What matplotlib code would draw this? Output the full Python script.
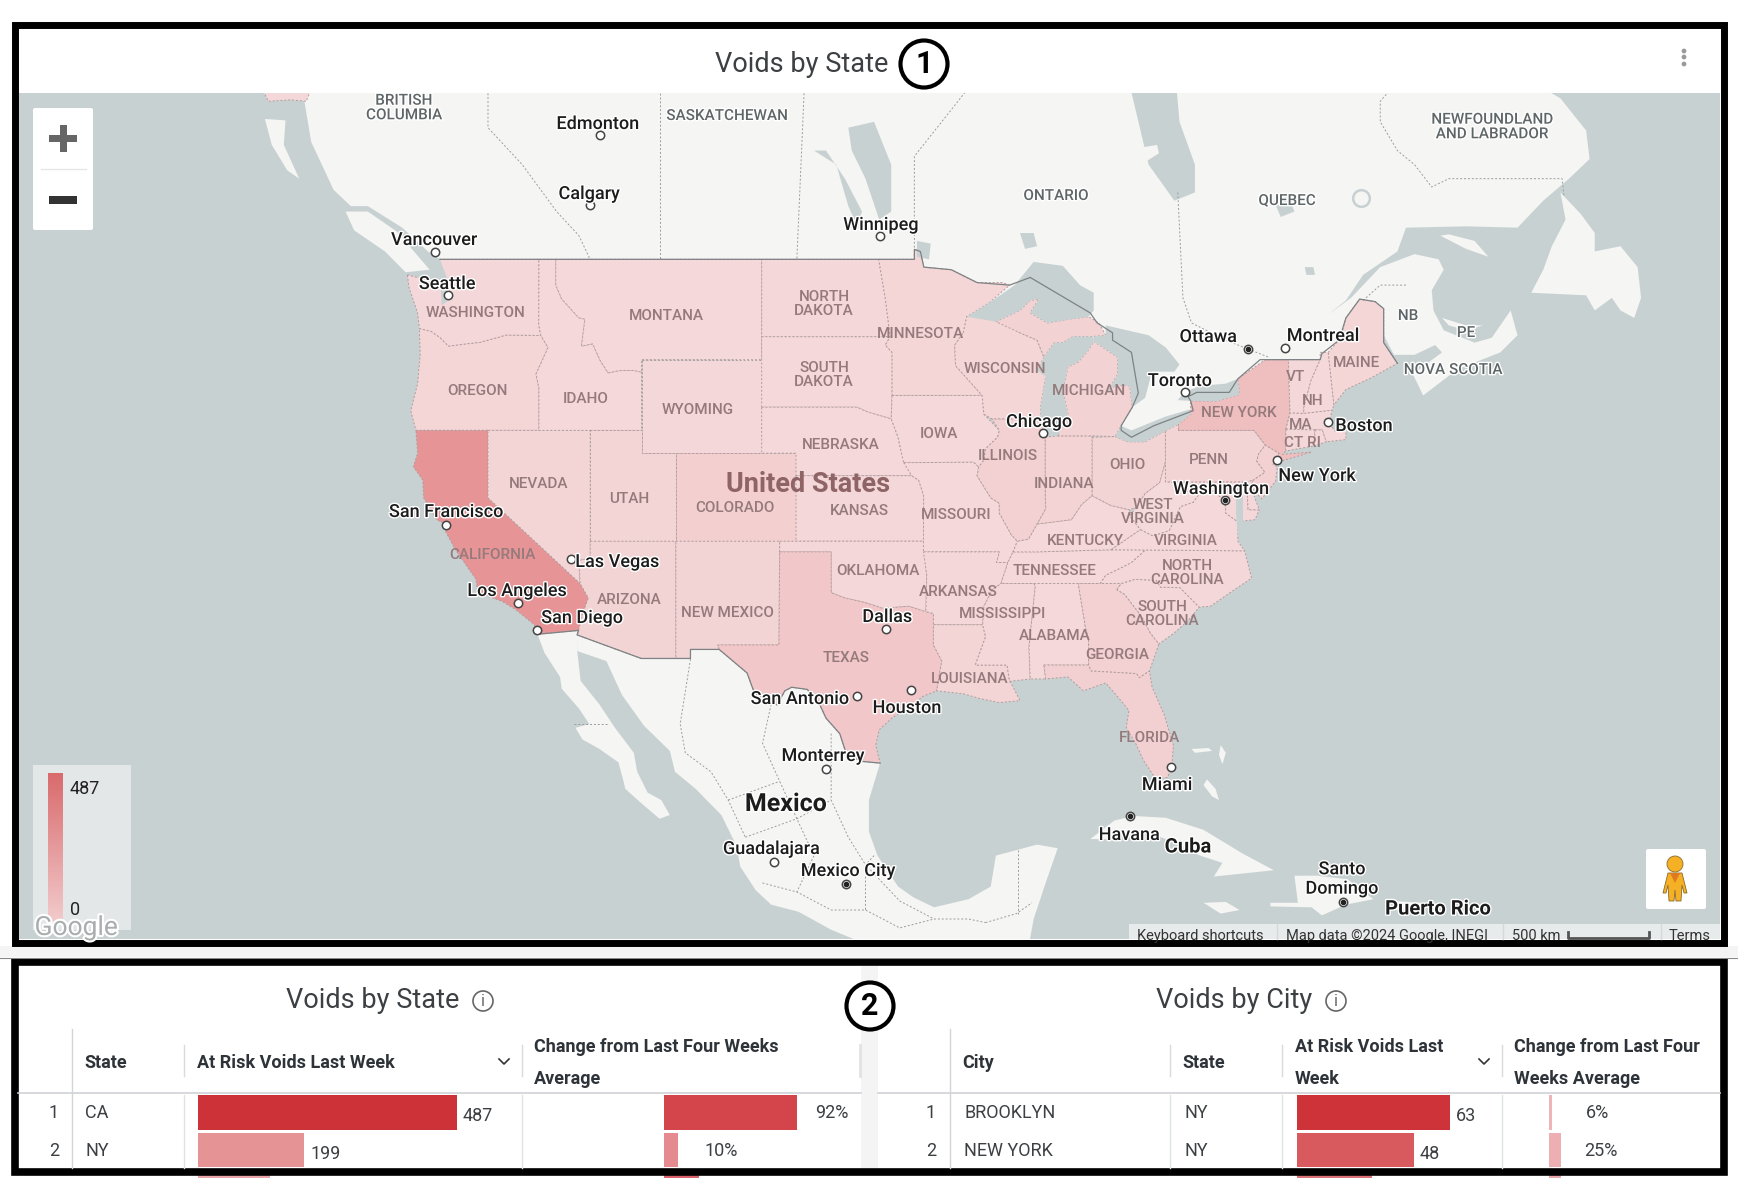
import numpy as np
import matplotlib
matplotlib.use("Agg")
import matplotlib.pyplot as plt
import matplotlib.patheffects as pe
from matplotlib.colors import LinearSegmentedColormap, Normalize
from matplotlib.patches import Rectangle, Circle, FancyBboxPatch, Polygon

plt.rcParams['font.family'] = ['Roboto', 'DejaVu Sans']

WIDTH, HEIGHT = 1738, 1178

# ---- table data
state_rows = ["CA", "NY", ""]
state_voids = [487, 199, 136]
state_change = [92, 10, 24]
city_rows = ["BROOKLYN", "NEW YORK", ""]
city_states = ["NY", "NY", ""]
city_voids = [63, 48, 31]
city_change = [6, 25, 29]

state_void_colors = ["#cc3237", "#e69396", "#e9a5a8"]
state_change_colors = ["#d3454a", "#e58a8e", "#d9616a"]
city_void_colors = ["#cd3338", "#d85a5f", "#dd7276"]
city_change_colors = ["#efb4b7", "#eeafb2", "#eba6aa"]

# ---- map outlines, (lon, lat)
WA = [(-124.7,48.4),(-123.2,48.15),(-122.75,48.2),(-122.8,49.0),(-117.03,49.0),(-117.04,46.42),(-116.92,45.99),(-118.98,46.0),(-119.3,45.93),(-120.5,45.7),(-121.2,45.65),(-122.3,45.55),(-122.8,45.9),(-123.3,46.15),(-124.0,46.27),(-124.1,46.9),(-124.6,47.9)]
OR = [(-124.0,46.27),(-123.3,46.15),(-122.8,45.9),(-122.3,45.55),(-121.2,45.65),(-120.5,45.7),(-119.3,45.93),(-118.98,46.0),(-116.92,45.99),(-116.5,45.5),(-117.2,44.4),(-117.03,43.8),(-117.03,42.0),(-124.2,42.0),(-124.5,42.85),(-124.1,44.0),(-123.95,45.2)]
CA = [(-124.2,42.0),(-120.0,42.0),(-120.0,39.0),(-114.63,35.0),(-114.15,34.3),(-114.5,33.5),(-114.72,32.72),(-117.12,32.53),(-117.3,33.0),(-118.4,33.75),(-119.2,34.15),(-120.6,34.55),(-120.7,35.2),(-121.9,36.6),(-122.5,37.5),(-122.5,37.8),(-123.0,38.0),(-123.75,39.0),(-123.8,39.8),(-124.35,40.4),(-124.1,41.0)]
NV = [(-120,42),(-114.04,42),(-114.04,36.2),(-114.7,36.1),(-114.63,35.0),(-120,39)]
ID = [(-117.03,49),(-116.05,49),(-116.05,48.0),(-115.7,47.45),(-114.7,46.7),(-114.35,46.65),(-114.55,45.56),(-113.9,45.65),(-113.45,44.95),(-113.0,44.45),(-112.3,44.55),(-111.5,44.55),(-111.05,44.48),(-111.05,42.0),(-117.03,42),(-117.03,43.8),(-117.2,44.4),(-116.5,45.5),(-116.92,45.99),(-117.04,46.42)]
MT = [(-116.05,49),(-104.05,49),(-104.05,45.0),(-111.05,45.0),(-111.05,44.48),(-111.5,44.55),(-112.3,44.55),(-113.0,44.45),(-113.45,44.95),(-113.9,45.65),(-114.55,45.56),(-114.35,46.65),(-114.7,46.7),(-115.7,47.45),(-116.05,48.0)]
WY = [(-111.05,45),(-104.05,45),(-104.05,41),(-111.05,41)]
UT = [(-114.04,42),(-111.05,42),(-111.05,41),(-109.05,41),(-109.05,37),(-114.04,37)]
CO = [(-109.05,41),(-102.05,41),(-102.05,37),(-109.05,37)]
AZ = [(-114.04,37),(-109.05,37),(-109.05,31.33),(-111.07,31.33),(-114.81,32.5),(-114.72,32.72),(-114.5,33.5),(-114.15,34.3),(-114.63,35.0),(-114.7,36.1),(-114.04,36.2)]
NM = [(-109.05,37),(-103.0,37),(-103.04,32.0),(-106.6,32.0),(-106.53,31.78),(-108.2,31.78),(-108.2,31.33),(-109.05,31.33)]
ND = [(-104.05,49),(-97.23,49),(-96.85,47.5),(-96.56,45.94),(-104.05,45.94)]
SD = [(-104.05,45.94),(-96.56,45.94),(-96.85,45.6),(-96.45,45.3),(-96.45,43.5),(-96.5,42.5),(-97.9,42.8),(-98.5,43.0),(-104.05,43.0)]
NE = [(-104.05,43),(-98.5,43),(-97.9,42.8),(-96.5,42.5),(-96.1,41.7),(-95.9,41.0),(-95.31,40.0),(-102.05,40),(-102.05,41),(-104.05,41)]
KS = [(-102.05,40),(-95.31,40),(-94.9,39.8),(-94.61,39.1),(-94.62,37),(-102.05,37)]
OK = [(-103,37),(-94.62,37),(-94.43,35.4),(-94.48,33.64),(-95.5,33.9),(-97.0,33.8),(-98.1,34.1),(-99.2,34.3),(-100,34.56),(-100,36.5),(-103,36.5)]
TX = [(-103,36.5),(-100,36.5),(-100,34.56),(-99.2,34.3),(-98.1,34.1),(-97.0,33.8),(-95.5,33.9),(-94.48,33.64),(-94.04,33.55),(-94.04,33.0),(-94.04,32.0),(-93.55,31.2),(-93.7,30.5),(-93.85,29.7),(-94.7,29.4),(-95.3,28.9),(-96.4,28.35),(-97.2,27.7),(-97.4,26.9),(-97.15,25.96),(-98.2,26.05),(-99.1,26.4),(-99.5,27.5),(-100.3,28.3),(-100.8,29.25),(-101.4,29.77),(-102.3,29.88),(-102.7,29.7),(-103.15,28.98),(-104.0,29.3),(-104.5,29.65),(-104.9,30.6),(-106.0,31.4),(-106.53,31.78),(-106.6,32.0),(-103.04,32)]
MN = [(-97.23,49),(-95.15,49),(-95.15,49.38),(-94.8,49.3),(-94.6,48.7),(-93.0,48.6),(-91.5,48.1),(-90,48.1),(-89.6,48.0),(-90.8,47.3),(-92.1,46.75),(-92.3,46.1),(-92.8,45.6),(-92.75,44.75),(-91.2,43.5),(-96.45,43.5),(-96.45,45.3),(-96.85,45.6),(-96.56,45.94),(-96.85,47.5)]
IA = [(-96.45,43.5),(-91.2,43.5),(-91.1,42.7),(-90.2,42.0),(-90.3,41.7),(-91.0,41.2),(-91.1,40.7),(-91.4,40.38),(-91.7,40.6),(-95.77,40.58),(-95.9,41.0),(-96.1,41.7),(-96.5,42.5)]
MO = [(-95.77,40.58),(-91.7,40.6),(-91.4,40.38),(-91.5,40.0),(-90.7,39.0),(-90.2,38.75),(-90.2,38.3),(-89.5,37.3),(-89.15,37.0),(-89.4,36.5),(-89.7,36.0),(-90.37,36.0),(-90.2,36.5),(-94.62,36.5),(-94.62,37),(-94.61,39.1),(-94.9,39.8),(-95.31,40)]
AR = [(-94.62,36.5),(-90.2,36.5),(-90.37,36.0),(-89.7,36.0),(-90.1,35.0),(-90.6,34.7),(-91.1,33.9),(-91.17,33.0),(-94.04,33.0),(-94.04,33.55),(-94.48,33.64),(-94.43,35.4)]
LA = [(-94.04,33),(-91.17,33),(-91.0,32.4),(-91.6,31.0),(-89.75,31.0),(-89.6,30.18),(-89.4,29.9),(-89.0,29.2),(-90.2,29.1),(-91.3,29.3),(-92.3,29.55),(-93.85,29.7),(-93.7,30.5),(-93.55,31.2),(-94.04,32)]
MS = [(-90.1,35.0),(-88.2,35.0),(-88.1,34.9),(-88.47,31.9),(-88.4,30.3),(-89.6,30.18),(-89.75,31.0),(-91.6,31.0),(-91.0,32.4),(-91.17,33),(-91.1,33.9),(-90.6,34.7)]
AL = [(-88.2,35),(-85.6,35),(-85.18,32.87),(-85.0,32.3),(-85.0,31.0),(-87.6,31.0),(-87.5,30.3),(-88.4,30.3),(-88.47,31.9),(-88.1,34.9)]
GA = [(-85.6,35),(-83.1,35),(-83.35,34.7),(-82.9,34.48),(-81.9,33.4),(-81.4,32.6),(-80.9,32.05),(-81.45,30.7),(-82.05,30.36),(-82.2,30.57),(-84.86,30.7),(-85.0,31.0),(-85.0,32.3),(-85.18,32.87)]
FL = [(-87.6,31),(-85,31),(-84.86,30.7),(-82.2,30.57),(-82.05,30.36),(-81.45,30.7),(-81.3,29.9),(-80.6,28.5),(-80.05,26.9),(-80.15,25.75),(-80.4,25.2),(-81.1,25.15),(-81.8,26.1),(-82.2,26.9),(-82.8,27.8),(-82.65,28.7),(-83.4,29.5),(-84.0,30.1),(-85.3,29.7),(-86.2,30.4),(-87.5,30.3)]
SC = [(-83.35,34.7),(-83.1,35),(-82.3,35.2),(-81.05,35.15),(-80.8,34.82),(-79.67,34.8),(-78.55,33.86),(-79.2,33.2),(-80.0,32.6),(-80.9,32.05),(-81.4,32.6),(-81.9,33.4),(-82.9,34.48)]
NC = [(-84.32,35.0),(-84.0,35.4),(-83.1,35.75),(-82.5,36.0),(-81.7,36.59),(-75.9,36.55),(-75.5,35.25),(-76.5,34.7),(-77.9,33.9),(-78.55,33.86),(-79.67,34.8),(-80.8,34.82),(-81.05,35.15),(-82.3,35.2),(-83.1,35)]
TN = [(-90.1,35.0),(-89.7,36.0),(-89.4,36.5),(-88.05,36.5),(-83.68,36.6),(-81.7,36.59),(-82.5,36.0),(-83.1,35.75),(-84.0,35.4),(-84.32,35.0)]
KY = [(-89.4,36.5),(-88.05,36.5),(-83.68,36.6),(-81.97,37.54),(-82.6,38.17),(-82.6,38.45),(-83.7,38.65),(-84.8,39.1),(-85.4,38.7),(-86.0,38.0),(-87.0,37.9),(-88.0,37.8),(-88.5,37.1),(-89.15,37)]
VA = [(-83.68,36.6),(-81.7,36.59),(-75.9,36.55),(-76.3,37.0),(-76.3,37.9),(-77.0,38.3),(-77.05,38.85),(-77.7,39.3),(-78.35,39.4),(-78.9,38.8),(-79.65,38.6),(-80.3,37.5),(-81.25,37.25),(-81.97,37.54)]
WV = [(-81.97,37.54),(-81.25,37.25),(-80.3,37.5),(-79.65,38.6),(-78.9,38.8),(-78.35,39.4),(-77.7,39.3),(-78.35,39.65),(-79.48,39.2),(-79.48,39.72),(-80.52,39.72),(-80.52,40.64),(-80.85,39.7),(-81.7,39.2),(-82.2,38.6),(-82.6,38.17)]
MD = [(-79.48,39.72),(-75.79,39.72),(-75.7,38.46),(-75.05,38.45),(-75.3,38.0),(-75.9,37.95),(-76.3,37.9),(-77.0,38.3),(-77.05,38.85),(-77.7,39.3),(-78.35,39.65),(-79.48,39.2)]
DE = [(-75.79,39.72),(-75.4,39.8),(-75.55,39.5),(-75.05,38.45),(-75.7,38.46)]
PA = [(-80.52,41.98),(-79.76,42.27),(-79.76,42.0),(-75.35,42.0),(-74.7,41.36),(-75.1,40.95),(-75.2,40.65),(-74.72,40.15),(-75.4,39.8),(-75.79,39.72),(-80.52,39.72)]
NJ = [(-74.7,41.36),(-73.9,41.0),(-74.25,40.5),(-74.0,40.4),(-74.1,39.75),(-74.9,38.95),(-75.55,39.5),(-75.4,39.8),(-74.72,40.15),(-75.2,40.65),(-75.1,40.95)]
NY = [(-79.76,42.0),(-75.35,42),(-74.7,41.36),(-73.9,41.0),(-74.0,40.6),(-72.0,41.05),(-73.7,40.95),(-73.5,41.1),(-73.5,42.05),(-73.26,42.75),(-73.35,45.0),(-74.7,45.0),(-76.3,44.2),(-76.2,43.55),(-77.5,43.25),(-79.05,43.27),(-79.05,42.7),(-79.76,42.27)]
VT = [(-73.35,45),(-71.5,45),(-72.05,44.1),(-72.45,43.0),(-72.46,42.73),(-73.26,42.75)]
NH = [(-71.5,45.3),(-71.03,45.3),(-70.7,43.1),(-70.8,42.87),(-72.46,42.73),(-72.45,43.0),(-72.05,44.1),(-71.5,45.0)]
ME = [(-71.03,45.3),(-70.3,45.9),(-70.0,46.7),(-69.2,47.45),(-68.3,47.35),(-67.8,47.07),(-67.8,45.7),(-67.0,44.85),(-68.5,44.25),(-70.0,43.75),(-70.7,43.1)]
MA = [(-73.5,42.05),(-71.8,42.02),(-71.38,42.02),(-71.15,41.5),(-70.0,41.6),(-70.0,42.05),(-70.6,41.95),(-71.0,42.3),(-70.8,42.87),(-72.46,42.73),(-73.26,42.75)]
CT = [(-73.5,42.05),(-71.8,42.02),(-71.85,41.32),(-73.5,41.1)]
RI = [(-71.8,42.02),(-71.38,42.02),(-71.15,41.5),(-71.85,41.32)]
OH = [(-84.8,41.7),(-83.45,41.73),(-82.7,41.5),(-81.7,41.5),(-80.52,41.98),(-80.52,40.64),(-80.85,39.7),(-81.7,39.2),(-82.2,38.6),(-82.6,38.45),(-83.7,38.65),(-84.8,39.1)]
IN = [(-87.53,41.7),(-86.8,41.76),(-84.8,41.76),(-84.8,39.1),(-85.4,38.7),(-86.0,38.0),(-87.0,37.9),(-88.0,37.8),(-87.5,38.5),(-87.53,39.35)]
IL = [(-90.64,42.5),(-87.8,42.5),(-87.6,41.8),(-87.53,41.7),(-87.53,39.35),(-87.5,38.5),(-88.0,37.8),(-88.5,37.1),(-89.15,37),(-89.5,37.3),(-90.2,38.3),(-90.2,38.75),(-90.7,39.0),(-91.5,40.0),(-91.4,40.38),(-91.1,40.7),(-91.0,41.2),(-90.3,41.7),(-90.2,42.0)]
WI = [(-92.3,46.1),(-92.1,46.75),(-90.8,46.9),(-89.0,46.1),(-88.0,45.8),(-87.6,45.1),(-88.0,44.55),(-87.3,45.2),(-87.5,44.3),(-87.8,43.0),(-87.8,42.5),(-90.64,42.5),(-91.1,42.7),(-91.2,43.5),(-92.75,44.75),(-92.8,45.6)]
MI_UP = [(-90.4,46.55),(-89.0,47.0),(-88.4,47.4),(-87.9,47.45),(-88.4,46.9),(-87.4,46.5),(-86.1,46.65),(-85.0,46.75),(-84.4,46.5),(-84.0,46.0),(-84.7,45.95),(-85.9,45.95),(-86.5,45.7),(-87.0,45.7),(-87.6,45.1),(-88.0,45.8),(-89.0,46.1)]
MI_LP = [(-86.8,41.76),(-84.8,41.76),(-83.45,41.73),(-83.1,42.2),(-82.45,43.0),(-82.6,43.9),(-83.4,43.95),(-83.9,43.65),(-83.3,44.4),(-83.3,45.1),(-84.7,45.75),(-85.0,45.4),(-85.6,44.9),(-86.2,44.7),(-86.5,43.7),(-86.2,42.7)]
AK_TIP = [(-133.5,55.5),(-132.8,54.7),(-131.5,54.75),(-130.6,54.7),(-130,55.5)]

state_outlines = [WA, OR, CA, NV, ID, MT, WY, UT, CO, AZ, NM, ND, SD, NE, KS, OK, TX, MN, IA, MO, AR, LA, MS, AL, GA, FL, SC, NC, TN, KY, VA, WV, MD, DE, PA, NJ, NY, VT, NH, ME, MA, CT, RI, OH, IN, IL, WI, MI_UP, MI_LP, AK_TIP]
# voids per state, only CA and NY are readable, rest estimated from the fill colour
map_voids = [30, 35, 487, 45, 15, 15, 25, 40, 80, 50, 50, 20, 15, 15, 20, 25, 136, 35, 15, 15, 25, 40, 25, 15, 75, 85, 25, 20, 15, 15, 15, 10, 30, 30, 50, 75, 199, 20, 15, 35, 30, 30, 15, 50, 55, 75, 35, 60, 60, 30]

CANADA = [(-130.7,56),(-130.7,54.7),(-130.3,53.3),(-129,51.6),(-128,51),(-127,51),(-125,50.2),(-123.5,49.3),(-122.8,49),(-120,47),(-78,41),(-72,44),(-69,46),(-67.8,46),(-67.2,45.2),(-66,45.2),(-64.8,45.6),(-64.4,45.3),(-66.1,44.4),(-65.5,43.5),(-63.5,44.6),(-61,45.3),(-60,46),(-60.4,47),(-61.5,45.9),(-62.5,45.7),(-64.3,46.2),(-64.9,47.0),(-65,47.8),(-64.3,48.6),(-64.6,49),(-66,49.2),(-68,48.7),(-69.7,47.5),(-71,46.85),(-70,47.4),(-69,48.4),(-67,49.3),(-66.5,50.2),(-63,50.25),(-60,50.2),(-58.5,51.2),(-57,52),(-55.8,52.7),(-56,53.7),(-57.5,54.8),(-59,55.3),(-60,56),(-80,56),(-79.7,54),(-78.8,52.5),(-78.8,51.5),(-80,51.2),(-81.5,52.5),(-82.5,55),(-82.5,56)]
VANCOUVER_ISLAND = [(-128.3,50.8),(-127,50.8),(-125.3,50.05),(-123.4,48.6),(-124.8,48.5),(-126,49.3),(-127.8,50.1)]
HAIDA_GWAII = [(-133,54.1),(-131.8,54.05),(-131.9,53.2),(-131,52),(-131.7,52.3),(-132.6,53.2)]
AKIMISKI = [(-82,53.1),(-81,53.2),(-80.9,52.9),(-81.7,52.6)]
NEWFOUNDLAND = [(-57.5,51.5),(-56.3,50.7),(-55.5,50),(-55.5,49.3),(-54,49.5),(-53,48.7),(-52.8,47.5),(-53.2,46.7),(-54,47),(-54.5,47.5),(-55.5,47),(-56,47.6),(-59.2,47.7),(-58.5,48.6),(-58,49.5),(-57.2,50.5)]
ANTICOSTI = [(-64.5,49.9),(-63,49.4),(-61.7,49.1),(-62.5,49.7),(-64,49.95)]
PEI = [(-64.4,46.7),(-63,46.4),(-62,46.4),(-63,46.2),(-64,46.4)]
BAJA = [(-117.12,32.53),(-116.7,31.6),(-115.8,30.4),(-115.7,29.8),(-114.7,28.8),(-114.1,28),(-114.9,27.8),(-114.5,27.2),(-113.5,26.7),(-112.4,26),(-112.1,25),(-112,24.6),(-110.9,23.7),(-110,23),(-109.4,23.2),(-109.9,24),(-110.7,24.4),(-111.3,25.5),(-111.5,26.5),(-112.6,27.8),(-113.5,29),(-114.6,30.2),(-114.8,31.7),(-114.72,32.72)]
MEXICO = [(-114.8,31.7),(-113.1,31.2),(-112.2,29.5),(-110.9,27.9),(-109.4,26.6),(-109.1,25.5),(-107.9,24.6),(-106.4,23.2),(-105.5,21.5),(-105.3,20.4),(-104.4,19.1),(-103.5,18.3),(-101.9,17.9),(-100,16.9),(-98,16.1),(-96,15.7),(-90,14),(-88.5,15.9),(-88.2,17.5),(-87.5,19.5),(-86.8,21.4),(-88,21.6),(-90.4,21),(-90.7,19.3),(-92,18.6),(-94,18.15),(-95.2,18.7),(-96.1,19.3),(-97.3,21),(-97.8,22.3),(-97.8,24),(-97.15,25.96),(-100,30),(-106,33),(-111,33),(-114.8,32.5)]
CUBA = [(-84.9,21.9),(-83.5,22.9),(-82.4,23.15),(-80.5,23.05),(-78.3,22.4),(-76,21.1),(-74.2,20.2),(-77.7,19.85),(-77.2,20.6),(-78.5,21),(-80.5,21.9),(-82,22.4),(-84,21.9)]
HISPANIOLA = [(-74.4,18.4),(-72.8,18.4),(-73,19.9),(-71.7,19.9),(-69.9,19.7),(-68.4,18.6),(-70,18.3),(-71.4,17.7),(-72,18.15),(-74.4,18.2)]
JAMAICA = [(-78.3,18.4),(-77,18.45),(-76.2,18),(-77.3,17.8)]
PUERTO_RICO = [(-67.2,18.5),(-65.6,18.4),(-65.8,18),(-67.2,18)]
ANDROS = [(-78.1,25.1),(-77.6,24.6),(-77.4,24),(-77.8,24.2),(-78.3,24.8)]
GRAND_BAHAMA = [(-79,26.7),(-78,26.75),(-77.8,26.6),(-78.8,26.5)]
ABACO = [(-77.3,26.9),(-77,26.5),(-77.2,25.9),(-77.4,26.4)]
land_outlines = [CANADA, VANCOUVER_ISLAND, HAIDA_GWAII, AKIMISKI, NEWFOUNDLAND, ANTICOSTI, PEI, BAJA, MEXICO, CUBA, HISPANIOLA, JAMAICA, PUERTO_RICO, ANDROS, GRAND_BAHAMA, ABACO]

SUPERIOR = [(-92.1,46.75),(-90.4,46.55),(-89.0,47.0),(-88.4,47.4),(-87.9,47.45),(-88.4,46.9),(-87.4,46.5),(-85.0,46.75),(-84.7,47.0),(-84.7,47.7),(-85.5,48.0),(-86.5,48.75),(-88.2,48.9),(-89.3,48.0),(-90.8,47.3)]
MICHIGAN = [(-87.6,41.75),(-86.8,41.76),(-86.2,42.7),(-86.5,43.7),(-86.2,44.7),(-85.6,44.9),(-85,45.4),(-84.7,45.75),(-84.7,45.95),(-85.9,45.95),(-86.5,45.7),(-87,45.7),(-87.6,45.1),(-88.0,44.55),(-87.5,44.3),(-87.8,43),(-87.8,42.5)]
HURON = [(-84.7,45.75),(-83.3,45.1),(-83.3,44.4),(-83.9,43.65),(-83.4,43.95),(-82.6,43.9),(-82.45,43),(-81.7,43.4),(-81.3,44.5),(-80.0,44.5),(-79.7,44.8),(-80.5,45.5),(-81.5,46.0),(-84.0,46.4),(-84.0,46.0),(-84.7,45.95)]
ERIE = [(-83.45,41.73),(-82.7,41.5),(-81.7,41.5),(-80.52,41.98),(-79.76,42.27),(-79.05,42.7),(-79.1,42.9),(-80.5,42.6),(-82.5,42.0),(-83.1,42.2)]
ONTARIO = [(-79.05,43.27),(-77.5,43.25),(-76.2,43.55),(-76.3,44.2),(-77.0,44.0),(-78.5,43.9),(-79.4,43.65),(-79.8,43.3)]
WINNIPEG = [(-99,53.8),(-97.5,54),(-96.5,52.5),(-96.5,50.8),(-97.2,50.5),(-98,52),(-98.8,53)]
MANITOBA = [(-101,53),(-99.7,52.5),(-99,51),(-98.5,50.3),(-98.2,50.8),(-99.2,52),(-100.3,53)]
NIPIGON = [(-89,50),(-88.2,50),(-88,49.5),(-88.7,49.4)]
WOODS = [(-95,49.7),(-94.2,49.6),(-94.3,49),(-95,49.1)]
MISTASSINI = [(-74.2,51.2),(-73.4,51.4),(-73,50.8),(-73.8,50.6)]
ST_JEAN = [(-72.4,48.7),(-71.9,48.7),(-71.8,48.4),(-72.3,48.4)]
PUGET = [(-122.8,49),(-122.4,48.3),(-122.3,47.4),(-122.7,47.2),(-122.75,48.1),(-123.2,48.3)]
CHESAPEAKE = [(-76.4,39.4),(-76,39.5),(-76,38.2),(-76,37.2),(-76.3,37.2),(-76.4,38.2)]
water_outlines = [SUPERIOR, MICHIGAN, HURON, ERIE, ONTARIO, WINNIPEG, MANITOBA, NIPIGON, WOODS, MISTASSINI, ST_JEAN, PUGET, CHESAPEAKE]

country_border = [(-122.8,49),(-95.15,49),(-95.15,49.38),(-94.8,49.3),(-94.6,48.7),(-93,48.6),(-91.5,48.1),(-89.6,48),(-88.4,48.3),(-84.9,46.9),(-84.5,46.5),(-83.6,46.1),(-83.6,45.8),(-82.5,45.3),(-82.1,43.6),(-82.45,43),(-83.1,42.2),(-83.1,42),(-82.5,41.7),(-81.2,42.2),(-78.9,42.85),(-79.05,43.27),(-79.2,43.45),(-78.7,43.63),(-76.8,43.63),(-76.3,44.2),(-75,45),(-71.5,45),(-71.4,45.25),(-70.4,45.8),(-70,46.7),(-69.2,47.45),(-68.3,47.35),(-67.8,47.07),(-67.8,45.7),(-67,44.85)]
mexico_border = [(-117.12,32.53),(-114.72,32.72),(-114.81,32.5),(-111.07,31.33),(-108.2,31.33),(-108.2,31.78),(-106.53,31.78),(-106,31.4),(-104.9,30.6),(-104.5,29.65),(-104,29.3),(-103.15,28.98),(-102.7,29.7),(-102.3,29.88),(-101.4,29.77),(-100.8,29.25),(-100.3,28.3),(-99.5,27.5),(-99.1,26.4),(-98.2,26.05),(-97.15,25.96)]
province_borders = [
    [(-120,56),(-120,53.8),(-118,52.5),(-116,50.8),(-114.7,49.9),(-114.05,49)],
    [(-110,56),(-110,49)],
    [(-101.5,56),(-102,49)],
    [(-95.15,49),(-95.15,52.8),(-92.2,55)],
    [(-79.8,51.5),(-79.5,47.5),(-79,46.5),(-77,45.8),(-74.5,45.1)],
    [(-66,56),(-68,54.7),(-68,54),(-67,53),(-66,52.5),(-65,51.7),(-64,52),(-57.4,52),(-57.3,51.4)],
    [(-69,47.4),(-68,48),(-66.5,48)],
    [(-115,28),(-113,28)],
    [(-108.2,31.3),(-108.8,28),(-108.5,26.5),(-107,25.5),(-106,24),(-105,22)],
    [(-103.5,29),(-104,27),(-103,25),(-102,23),(-101,21),(-102,19)],
    [(-100,27.5),(-100,24),(-99,22),(-98,20.5),(-98,18)],
    [(-106,24),(-103,25)],
    [(-105,22),(-102,23),(-100,24)],
    [(-104,19.5),(-102,19),(-100,18),(-98,18),(-96,17),(-94,17.5)],
    [(-97.5,21),(-98,20.5),(-96,18.5),(-94,17.5),(-92,17.5),(-91,17.3)],
    [(-89.1,21.3),(-89.1,17.8)],
    [(-91,17.3),(-89.2,17.8),(-88.3,18.4)],
]

# name, lon, lat, capital
city_names = ["Edmonton", "Calgary", "Vancouver", "Seattle", "Winnipeg", "Ottawa", "Montreal", "Toronto", "Chicago", "Boston", "New York", "Washington", "San Francisco", "Las Vegas", "Los Angeles", "San Diego", "Dallas", "San Antonio", "Houston", "Miami", "Monterrey", "Guadalajara", "Mexico City", "Havana", "Santo\nDomingo"]
city_lon = [-113.5, -114.07, -123.1, -122.33, -97.14, -75.7, -73.57, -79.38, -87.63, -71.06, -74.0, -77.04, -122.42, -115.14, -118.24, -117.16, -96.8, -98.49, -95.37, -80.19, -100.3, -103.35, -99.13, -82.6, -70.2]
city_lat = [53.55, 51.05, 49.28, 47.6, 49.9, 45.42, 45.5, 43.65, 41.88, 42.36, 40.71, 38.9, 37.77, 36.17, 34.05, 32.72, 32.78, 29.42, 29.76, 25.76, 25.67, 20.66, 19.43, 23.13, 18.47]
city_capital = [0, 0, 0, 0, 0, 1, 0, 0, 0, 0, 0, 1, 0, 0, 0, 0, 0, 0, 0, 0, 0, 0, 1, 1, 1]
city_text_xy = [(598,122),(589,192),(434,238),(447,282),(881,223),(1208,335),(1323,334),(1180,379),(1039,420),(1364,424),(1317,474),(1221,487),(446,510),(617,560),(517,589),(582,616),(887,615),(800,697),(907,706),(1167,783),(823,754),(771,847),(848,869),(1129,833),(1342,877)]

canada_labels = ["BRITISH\nCOLUMBIA", "SASKATCHEWAN", "ONTARIO", "QUEBEC", "NEWFOUNDLAND\nAND LABRADOR", "NB", "PE", "NOVA SCOTIA"]
canada_label_xy = [(404,106),(727,114),(1056,194),(1287,199),(1492,125),(1408,314),(1466,331),(1453,368)]
us_labels = ["WASHINGTON", "MONTANA", "NORTH\nDAKOTA", "OREGON", "IDAHO", "WYOMING", "SOUTH\nDAKOTA", "NEBRASKA", "NEVADA", "UTAH", "COLORADO", "KANSAS", "CALIFORNIA", "ARIZONA", "NEW MEXICO", "OKLAHOMA", "TEXAS", "MINNESOTA", "WISCONSIN", "MICHIGAN", "IOWA", "ILLINOIS", "OHIO", "PENN", "NEW YORK", "MAINE", "VT", "NH", "MA", "CT RI", "INDIANA", "MISSOURI", "WEST\nVIRGINIA", "KENTUCKY", "VIRGINIA", "TENNESSEE", "NORTH\nCAROLINA", "ARKANSAS", "SOUTH\nCAROLINA", "MISSISSIPPI", "ALABAMA", "GEORGIA", "LOUISIANA", "FLORIDA"]
us_label_xy = [(476,311),(666,314),(824,302),(477,389),(586,397),(698,408),(824,373),(841,443),(539,482),(629,497),(735,506),(859,509),(492,553),(629,598),(727,611),(878,569),(846,656),(920,332),(1005,367),(1089,389),(939,432),(1008,454),(1127,463),(1209,458),(1239,411),(1357,361),(1295,375),(1313,399),(1301,423),(1303,441),(1064,482),(956,513),(1153,510),(1085,539),(1186,539),(1055,569),(1187,571),(958,590),(1162,612),(1003,612),(1055,634),(1117,653),(970,677),(1150,736)]
country_labels = ["Mexico", "Cuba", "Puerto Rico"]
country_label_xy = [(786,802),(1188,845),(1438,907)]
country_label_size = [18, 14.5, 14.5]

MAP_LEFT, MAP_RIGHT, MAP_TOP, MAP_BOTTOM = 18, 1720, 93, 939
WATER = "#c8d1d2"
LAND = "#f5f5f3"


def merc(lat):
    lat = np.asarray(lat, dtype=float)
    return np.degrees(np.log(np.tan(np.radians(45 + np.clip(lat, -85, 85) / 2))))


def merc_inv(y):
    return 2 * np.degrees(np.arctan(np.exp(np.radians(y)))) - 90


def px_axes(fig, left, top, right, bottom, **kwargs):
    # axes placed by picture pixels
    return fig.add_axes([left / WIDTH, 1 - bottom / HEIGHT, (right - left) / WIDTH, (bottom - top) / HEIGHT], **kwargs)


def draw_bars(fig, left, width, max_value, values, colors):
    ax = px_axes(fig, left, 1093.75, left + width, 1178, zorder=2)
    ax.barh(range(len(values)), values, height=0.93, color=colors)
    ax.set_xlim(0, max_value)
    ax.set_ylim(1.745, -0.5)
    ax.axis("off")
    return ax


fig = plt.figure(figsize=(WIDTH / 100, HEIGHT / 100), dpi=100, facecolor="white")

# ---- map
ax_map = px_axes(fig, MAP_LEFT, MAP_TOP, MAP_RIGHT, MAP_BOTTOM, zorder=1)
ax_map.set_yscale("function", functions=(merc, merc_inv))
ax_map.set_facecolor(WATER)
for outline in land_outlines:
    xs, ys = zip(*outline)
    ax_map.fill(xs, ys, color=LAND, lw=0)

cmap_fill = LinearSegmentedColormap.from_list("voids_fill", ["#f5dbdc", "#e69496"])
norm_fill = Normalize(0, 487)
for outline, voids in zip(state_outlines, map_voids):
    xs, ys = zip(*outline)
    ax_map.fill(xs, ys, facecolor=cmap_fill(norm_fill(voids)), edgecolor="#b39c9d", lw=0.7, ls=(0, (2, 2)))
for outline in water_outlines:
    xs, ys = zip(*outline)
    ax_map.fill(xs, ys, color=WATER, lw=0)

for line in province_borders:
    xs, ys = zip(*line)
    ax_map.plot(xs, ys, color="#9a9d9e", lw=0.7, ls=(0, (2, 2)))
for line in [country_border, mexico_border]:
    xs, ys = zip(*line)
    ax_map.plot(xs, ys, color="#7d8284", lw=0.9)
ax_map.plot([-69.1], [51.3], marker="o", ms=12, mfc="none", mec=WATER, mew=1.8)

for lon, lat, capital in zip(city_lon, city_lat, city_capital):
    ax_map.plot(lon, lat, marker="o", ms=6, mfc="white", mec="#444444", mew=1.1, zorder=5)
    if capital:
        ax_map.plot(lon, lat, marker="o", ms=3, color="#222222", zorder=6)

ax_map.set_xlim(-147.39, -48.2)
ax_map.set_ylim(16.38, 54.98)
ax_map.set_xticks([])
ax_map.set_yticks([])
ax_map.minorticks_off()
for spine in ax_map.spines.values():
    spine.set_visible(False)

# ---- legend on the map
ax_leg = px_axes(fig, 33, 765, 131, 930, zorder=2)
ax_leg.set_facecolor("#e3e7e8")
ax_leg.set_xticks([])
ax_leg.set_yticks([])
for spine in ax_leg.spines.values():
    spine.set_visible(False)
ax_grad = px_axes(fig, 48, 773, 63, 922, zorder=3)
cmap_leg = LinearSegmentedColormap.from_list("voids_leg", ["#f2cacb", "#d96a6c"])
ax_grad.imshow(np.linspace(487, 0, 100).reshape(-1, 1), aspect="auto", cmap=cmap_leg, vmin=0, vmax=487)
ax_grad.axis("off")

# ---- table bars
draw_bars(fig, 198, 259, 487, state_voids, state_void_colors)
draw_bars(fig, 664, 133, 92, state_change, state_change_colors)
draw_bars(fig, 1297, 153, 63, city_voids, city_void_colors)
draw_bars(fig, 1549.4, 12, 25, city_change, city_change_colors)

# ---- everything else, drawn in picture pixels
ax = fig.add_axes([0, 0, 1, 1], zorder=5)
ax.set_xlim(0, WIDTH)
ax.set_ylim(HEIGHT, 0)
ax.axis("off")
ax.patch.set_alpha(0)

halo = [pe.withStroke(linewidth=2, foreground="white")]
for text, (x, y) in zip(canada_labels, canada_label_xy):
    ax.text(x, y, text, ha="center", va="center", fontsize=11, fontweight="medium", color="#5f6668", linespacing=1.05, path_effects=halo)
for text, (x, y) in zip(us_labels, us_label_xy):
    ax.text(x, y, text, ha="center", va="center", fontsize=11, fontweight="medium", color="#957a7c", linespacing=1.05)
ax.text(808, 482, "United States", ha="center", va="center", fontsize=19.5, fontweight="bold", color="#8f6466")
for text, (x, y) in zip(city_names, city_text_xy):
    ax.text(x, y, text, ha="center", va="center", fontsize=13, fontweight="medium", color="#1c1c1c", linespacing=1.1, path_effects=halo)
for text, (x, y), size in zip(country_labels, country_label_xy, country_label_size):
    ax.text(x, y, text, ha="center", va="center", fontsize=size, fontweight="bold", color="#1c1c1c", path_effects=halo)

# zoom control
ax.add_patch(FancyBboxPatch((33, 108), 60, 122, boxstyle="round,pad=0,rounding_size=2", fc="white", ec="none"))
ax.add_patch(Rectangle((49, 135), 28, 7, fc="#666666", ec="none"))
ax.add_patch(Rectangle((60, 125), 7, 27, fc="#666666", ec="none"))
ax.plot([41, 86], [169, 169], color="#e6e6e6", lw=1)
ax.add_patch(Rectangle((49, 196), 28, 8, fc="#333333", ec="none"))

# legend text and logo
ax.text(70, 787, "487", va="center", fontsize=13, color="#222222")
ax.text(70, 908, "0", va="center", fontsize=13, color="#222222")
ax.text(76, 926, "Google", ha="center", va="center", fontsize=19, color="#a9adad", path_effects=[pe.withStroke(linewidth=3, foreground="white")])

# pegman
ax.add_patch(FancyBboxPatch((1646, 849), 60, 60, boxstyle="round,pad=0,rounding_size=2", fc="white", ec="none"))
ax.add_patch(Polygon([(1668, 873), (1682, 873), (1687, 893), (1684, 893), (1682, 885), (1681, 901), (1676, 901), (1675, 890), (1674, 901), (1669, 901), (1668, 885), (1666, 893), (1663, 893)], fc="#f6b026", ec="#8a6a2a", lw=0.6))
ax.add_patch(Polygon([(1670, 873), (1680, 873), (1675, 883)], fc="#e07a1f", ec="none"))
ax.add_patch(Circle((1675, 864), 8, fc="#f6b026", ec="#8a6a2a", lw=0.6))

# footer strip
ax.add_patch(Rectangle((1129, 924), 591, 15, fc="#e8ebeb", ec="none"))
for x in [1277, 1503, 1661]:
    ax.plot([x, x], [924, 939], color="#d4d8d8", lw=1)
footer_text = ["Keyboard shortcuts", "Map data ©2024 Google, INEGI", "500 km", "Terms"]
footer_x = [1137, 1286, 1512, 1669]
for text, x in zip(footer_text, footer_x):
    ax.text(x, 934, text, va="center", fontsize=10.5, color="#333333")
ax.plot([1568, 1568, 1649, 1649], [932, 938, 938, 932], color="#555555", lw=2)

# header band of the map card
ax.add_patch(Rectangle((18, 28), 1702, 65, fc="white", ec="none"))
ax.text(802, 63, "Voids by State", ha="center", va="center", fontsize=19.5, color="#3c4043")
ax.add_patch(Circle((924, 64), 23.5, fc="white", ec="black", lw=3))
ax.text(924, 62, "1", ha="center", va="center", fontsize=22, fontweight="bold", color="black")
for y in [51, 57, 64]:
    ax.add_patch(Circle((1684, y), 2.4, fc="#9a9a9a", ec="none"))

# space between the cards and middle strip
ax.add_patch(Rectangle((0, 946), WIDTH, 11, fc="#f4f4f4", ec="none"))
ax.plot([0, WIDTH], [957.5, 957.5], color="#888888", lw=0.8)
ax.add_patch(Rectangle((861, 966), 17, 202, fc="#f4f4f4", ec="none"))

# table titles
table_titles = ["Voids by State", "Voids by City"]
title_x = [373, 1234]
icon_x = [483, 1336]
for text, x, ix in zip(table_titles, title_x, icon_x):
    ax.text(x, 999, text, ha="center", va="center", fontsize=19.5, color="#3c4043")
    ax.add_patch(Circle((ix, 1001), 10, fc="white", ec="#666666", lw=1.2))
    ax.text(ix, 999, "i", ha="center", va="center", fontsize=12, color="#666666")

# table headers
header_text = ["State", "At Risk Voids Last Week", "City", "State"]
header_x = [84, 197, 962, 1182]
for text, x in zip(header_text, header_x):
    ax.text(x, 1061, text, va="center", fontsize=13, fontweight="bold", color="#2d3338")
two_line_text = ["Change from Last Four Weeks", "Average", "At Risk Voids Last", "Week", "Change from Last Four", "Weeks Average"]
two_line_x = [534, 534, 1295, 1295, 1514, 1514]
two_line_y = [1045, 1077, 1045, 1077, 1045, 1077]
for text, x, y in zip(two_line_text, two_line_x, two_line_y):
    ax.text(x, y, text, va="center", fontsize=13, fontweight="bold", color="#2d3338")
for x in [504, 1484]:
    ax.plot([x - 5, x, x + 5], [1059, 1064, 1059], color="#333333", lw=1.2)

# table rules
ax.plot([18, 861], [1093, 1093], color="#cfd2d6", lw=1.2)
ax.plot([878, 1720], [1093, 1093], color="#cfd2d6", lw=1.2)
for x in [72, 949.5]:
    ax.plot([x, x], [1029, 1168], color="#d2d4d6", lw=1)
for x in [184, 522, 1169.5, 1282, 1502]:
    ax.plot([x, x], [1045, 1076], color="#d8dadc", lw=1)
    ax.plot([x, x], [1095, 1168], color="#e0e2e4", lw=1)
ax.plot([860, 860], [1045, 1076], color="#e2e2e2", lw=2)

# row text
row_y = [1111, 1149]
value_y = [1114, 1152]
state_value_x = [463, 310]
state_change_x = [815.5, 704]
city_value_x = [1456, 1419.5]
city_change_x = [1586, 1584]
for i in range(2):
    ax.text(54, row_y[i], str(i + 1), ha="center", va="center", fontsize=13, color="#3c4043")
    ax.text(85.5, row_y[i], state_rows[i], va="center", fontsize=13, color="#3c4043")
    ax.text(state_value_x[i], value_y[i], str(state_voids[i]), va="center", fontsize=13, color="#3c4043")
    ax.text(state_change_x[i], row_y[i], "{}%".format(state_change[i]), va="center", fontsize=13, color="#3c4043")
    ax.text(931, row_y[i], str(i + 1), ha="center", va="center", fontsize=13, color="#3c4043")
    ax.text(964, row_y[i], city_rows[i], va="center", fontsize=13, color="#3c4043")
    ax.text(1184, row_y[i], city_states[i], va="center", fontsize=13, color="#3c4043")
    ax.text(city_value_x[i], value_y[i], str(city_voids[i]), va="center", fontsize=13, color="#3c4043")
    ax.text(city_change_x[i], row_y[i], "{}%".format(city_change[i]), va="center", fontsize=13, color="#3c4043")

# black annotation frames and the second badge on top
ax.add_patch(Rectangle((14.5, 25), 1709.5, 917.5, fc="none", ec="black", lw=5))
ax.add_patch(Rectangle((14.5, 962), 1709.5, 210, fc="none", ec="black", lw=5.5))
ax.add_patch(Circle((870, 1006), 23.5, fc="white", ec="black", lw=3))
ax.text(870, 1004, "2", ha="center", va="center", fontsize=22, fontweight="bold", color="black")

# va="center" sits about 2px high against the reference
for t in ax.texts:
    x, y = t.get_position()
    t.set_position((x, y + 2))

fig.savefig("out.png", dpi=100, facecolor="white")
